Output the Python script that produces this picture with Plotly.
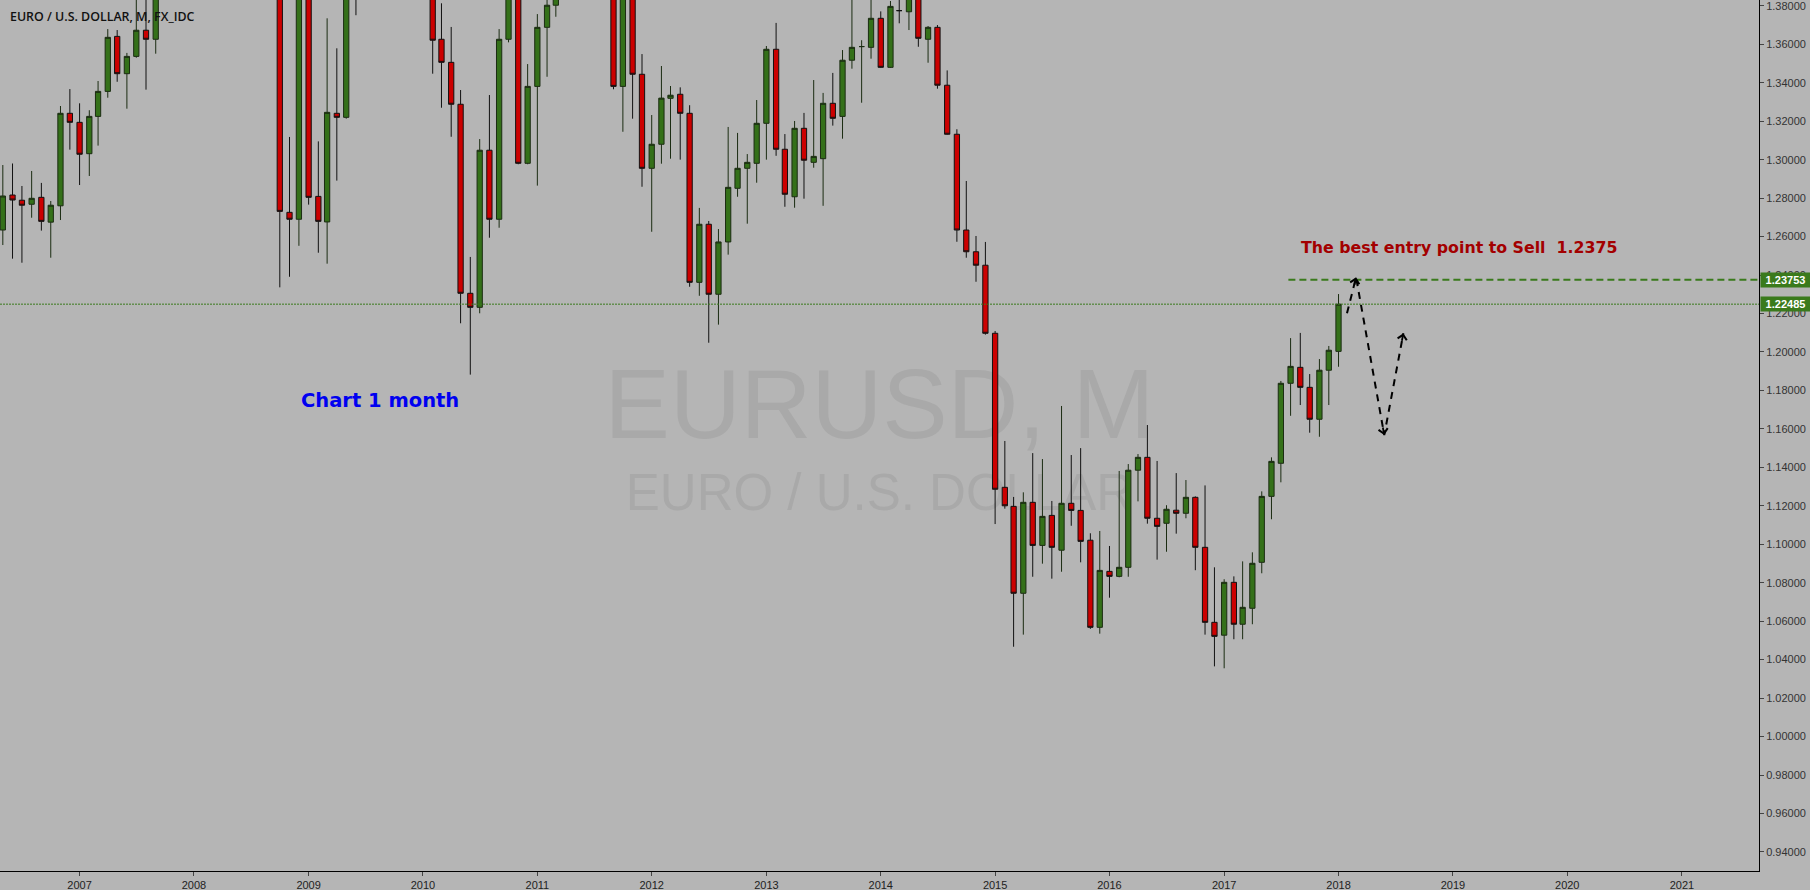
import pandas as pd
import plotly.graph_objects as go

# ---------------- data ----------------
months = pd.date_range("2006-05-01", "2018-01-01", freq="MS")

open_ = [
    1.2634, 1.2816, 1.2789, 1.2768, 1.2804, 1.2675, 1.2760, 1.3241,
    1.3194, 1.3031, 1.3225, 1.3355, 1.3641, 1.3447, 1.3537, 1.3673, 1.3626, 1.4265, 1.4487, 1.4630,
    1.4590, 1.4860, 1.5180, 1.5785, 1.5600, 1.5550, 1.5760, 1.5600, 1.4670, 1.4085, 1.2726, 1.2690,
    1.3970, 1.2809, 1.2676, 1.3241, 1.3220, 1.4150, 1.4030, 1.4250, 1.4330, 1.4635, 1.4720, 1.5000,
    1.4320, 1.3865, 1.3626, 1.3506, 1.3288, 1.2305, 1.2232, 1.3049, 1.2690, 1.3626, 1.3940, 1.2981,
    1.3381, 1.3688, 1.3803, 1.4160, 1.4805, 1.4395, 1.4500, 1.4395, 1.4380, 1.3381, 1.4145, 1.3444,
    1.2955, 1.3080, 1.3319, 1.3340, 1.3241, 1.2362, 1.2664, 1.2300, 1.2572, 1.2851, 1.2955, 1.2981,
    1.3189, 1.3574, 1.3054, 1.2807, 1.3163, 1.2986, 1.3005, 1.3293, 1.3225, 1.3517, 1.3588, 1.3584,
    1.3735, 1.3480, 1.3775, 1.3769, 1.3870, 1.3626, 1.3688, 1.3387, 1.3132, 1.2634, 1.2521, 1.2451,
    1.2097, 1.1296, 1.1197, 1.0745, 1.1218, 1.0994, 1.1150, 1.0969, 1.1213, 1.1176, 1.1021, 1.0568,
    1.0859, 1.0833, 1.0880, 1.1385, 1.1452, 1.1135, 1.1109, 1.1177, 1.1161, 1.1244, 1.0984, 1.0594,
    1.0527, 1.0802, 1.0584, 1.0667, 1.0906, 1.1249, 1.1421, 1.1837, 1.1920, 1.1816, 1.1650, 1.1905,
    1.2003,
]
high = [
    1.2972, 1.2980, 1.2863, 1.2941, 1.2879, 1.2785, 1.3279, 1.3367,
    1.3293, 1.3257, 1.3409, 1.3679, 1.3674, 1.3555, 1.3852, 1.3880, 1.4283, 1.4525, 1.4967, 1.4750,
    1.4905, 1.5240, 1.5905, 1.6020, 1.5815, 1.5845, 1.6040, 1.5620, 1.4865, 1.4150, 1.3118, 1.4720,
    1.4040, 1.3095, 1.3735, 1.3579, 1.4175, 1.4340, 1.4305, 1.4445, 1.4845, 1.5065, 1.5145, 1.5140,
    1.4580, 1.3990, 1.3813, 1.3690, 1.3362, 1.2494, 1.3107, 1.3336, 1.3679, 1.4160, 1.4280, 1.3497,
    1.3757, 1.3862, 1.4250, 1.4940, 1.4940, 1.4700, 1.4580, 1.4550, 1.4548, 1.4245, 1.4195, 1.3549,
    1.3232, 1.3487, 1.3383, 1.3376, 1.3283, 1.2749, 1.2681, 1.2639, 1.3170, 1.3139, 1.3029, 1.3310,
    1.3591, 1.3711, 1.3133, 1.3201, 1.3243, 1.3414, 1.3347, 1.3451, 1.3570, 1.3860, 1.3621, 1.3893,
    1.3771, 1.3825, 1.3967, 1.3905, 1.3995, 1.3695, 1.3700, 1.3464, 1.3158, 1.2889, 1.2603, 1.2572,
    1.2109, 1.1537, 1.1246, 1.1270, 1.1474, 1.1443, 1.1225, 1.1719, 1.1464, 1.1500, 1.1057, 1.1069,
    1.0991, 1.1381, 1.1417, 1.1469, 1.1620, 1.1433, 1.1203, 1.1370, 1.1334, 1.1249, 1.1306, 1.0880,
    1.0818, 1.0833, 1.0911, 1.0958, 1.1275, 1.1452, 1.1849, 1.2072, 1.2099, 1.1885, 1.1963, 1.2031,
    1.2301,
]
low = [
    1.2556, 1.2485, 1.2464, 1.2698, 1.2631, 1.2490, 1.2686, 1.3052,
    1.2868, 1.2915, 1.3073, 1.3322, 1.3405, 1.3265, 1.3530, 1.3364, 1.3551, 1.4088, 1.4440, 1.4350,
    1.4400, 1.4515, 1.5140, 1.5510, 1.5290, 1.5285, 1.5540, 1.4585, 1.3880, 1.2336, 1.2391, 1.2552,
    1.2766, 1.2516, 1.2459, 1.2891, 1.3213, 1.3751, 1.3870, 1.4045, 1.4220, 1.4575, 1.4640, 1.4220,
    1.3860, 1.3447, 1.3270, 1.3119, 1.2149, 1.1882, 1.2201, 1.2594, 1.2646, 1.3610, 1.2976, 1.2976,
    1.2865, 1.3431, 1.3743, 1.4155, 1.3970, 1.4010, 1.4050, 1.4050, 1.3366, 1.3145, 1.3213, 1.2859,
    1.2625, 1.2979, 1.3005, 1.3000, 1.2339, 1.2292, 1.2048, 1.2142, 1.2506, 1.2807, 1.2667, 1.2880,
    1.3000, 1.3020, 1.2755, 1.2750, 1.2797, 1.2958, 1.2760, 1.3177, 1.3109, 1.3473, 1.3296, 1.3525,
    1.3478, 1.3477, 1.3709, 1.3674, 1.3587, 1.3504, 1.3369, 1.3130, 1.2573, 1.2490, 1.2365, 1.2090,
    1.1105, 1.1185, 1.0467, 1.0530, 1.0831, 1.0899, 1.0821, 1.0857, 1.1096, 1.0906, 1.0560, 1.0535,
    1.0722, 1.0828, 1.0831, 1.1223, 1.1107, 1.0920, 1.0961, 1.1055, 1.1135, 1.0865, 1.0530, 1.0365,
    1.0355, 1.0506, 1.0506, 1.0584, 1.0849, 1.1130, 1.1322, 1.1668, 1.1724, 1.1580, 1.1559, 1.1724,
    1.1923,
]
close = [
    1.2811, 1.2790, 1.2763, 1.2799, 1.2679, 1.2763, 1.3241, 1.3194,
    1.3028, 1.3225, 1.3355, 1.3636, 1.3447, 1.3537, 1.3673, 1.3626, 1.4265, 1.4487, 1.4630, 1.4590,
    1.4860, 1.5180, 1.5785, 1.5600, 1.5550, 1.5760, 1.5600, 1.4670, 1.4085, 1.2731, 1.2690, 1.3970,
    1.2804, 1.2679, 1.3246, 1.3220, 1.4150, 1.4030, 1.4250, 1.4330, 1.4635, 1.4720, 1.5000, 1.4320,
    1.3865, 1.3621, 1.3506, 1.3288, 1.2305, 1.2232, 1.3049, 1.2690, 1.3626, 1.3940, 1.2981, 1.3381,
    1.3688, 1.3803, 1.4160, 1.4805, 1.4395, 1.4500, 1.4395, 1.4380, 1.3381, 1.4145, 1.3444, 1.2955,
    1.3080, 1.3320, 1.3335, 1.3241, 1.2362, 1.2664, 1.2300, 1.2572, 1.2856, 1.2955, 1.2986, 1.3189,
    1.3574, 1.3054, 1.2820, 1.3163, 1.2997, 1.3017, 1.3293, 1.3215, 1.3517, 1.3584, 1.3588, 1.3735,
    1.3480, 1.3797, 1.3775, 1.3870, 1.3631, 1.3688, 1.3387, 1.3132, 1.2634, 1.2521, 1.2451, 1.2097,
    1.1286, 1.1200, 1.0745, 1.1218, 1.0994, 1.1145, 1.0984, 1.1213, 1.1176, 1.1015, 1.0568, 1.0864,
    1.0833, 1.0880, 1.1385, 1.1452, 1.1135, 1.1093, 1.1182, 1.1161, 1.1244, 1.0984, 1.0594, 1.0521,
    1.0802, 1.0584, 1.0672, 1.0901, 1.1249, 1.1431, 1.1837, 1.1925, 1.1816, 1.1650, 1.1905, 1.2009,
    1.22485,
]
assert len(open_) == len(high) == len(low) == len(close) == len(months)

price_ticks = [0.94, 0.96, 0.98, 1.00, 1.02, 1.04, 1.06, 1.08, 1.10, 1.12, 1.14, 1.16,
               1.18, 1.20, 1.22, 1.24, 1.26, 1.28, 1.30, 1.32, 1.34, 1.36, 1.38]

last_price = 1.22485
entry_price = 1.23753
entry_line_start = "2017-07-25"

# hand-drawn forecast path (time, price)
arrow_x = ["2018-01-28", "2018-02-26", "2018-05-27", "2018-07-27"]
arrow_y = [1.2201, 1.2388, 1.1568, 1.2097]

BG = "#b5b5b5"
GREEN = "#347019"
RED = "#cc0000"
LINE_GREEN = "#3a7a1c"

fig = go.Figure()

fig.add_trace(go.Candlestick(
    x=months, open=open_, high=high, low=low, close=close,
    increasing=dict(fillcolor=GREEN, line=dict(color="#1b2c12", width=1)),
    decreasing=dict(fillcolor=RED, line=dict(color="#111111", width=1)),
    whiskerwidth=0, showlegend=False, hoverinfo="skip",
))

fig.add_trace(go.Scatter(
    x=arrow_x, y=arrow_y, mode="lines",
    line=dict(color="#000000", width=2, dash="7px,6px"),
    showlegend=False, hoverinfo="skip",
))

shapes = [
    # watermarks (drawn below the candles)
    dict(type="rect", xref="paper", yref="paper", x0=0, x1=1, y0=0.507, y1=0.585,
         line=dict(width=0), fillcolor="rgba(0,0,0,0)", layer="below",
         label=dict(text="EURUSD, M", textposition="middle center",
                    font=dict(family="Liberation Sans, Arial", size=98, color="#a9a9a9"))),
    dict(type="rect", xref="paper", yref="paper", x0=0, x1=1, y0=0.413, y1=0.468,
         line=dict(width=0), fillcolor="rgba(0,0,0,0)", layer="below",
         label=dict(text="EURO / U.S. DOLLAR", textposition="middle center",
                    font=dict(family="Liberation Sans, Arial", size=51, color="#a9a9a9"))),
    # last price dotted line
    dict(type="line", xref="paper", yref="y", x0=0, x1=1, y0=last_price, y1=last_price,
         line=dict(color=LINE_GREEN, width=1, dash="2px,1px"), layer="above"),
    # entry dashed line
    dict(type="line", xref="x", yref="y", x0=entry_line_start, x1="2022-06-01",
         y0=entry_price, y1=entry_price,
         line=dict(color=LINE_GREEN, width=2, dash="7px,4px"), layer="above"),
]

annotations = [
    dict(xref="paper", yref="paper", x=0.0045, y=1 - 17 / 871, xanchor="left", yanchor="middle",
         text="EURO / U.S. DOLLAR, M, FX_IDC", showarrow=False,
         font=dict(family="Open Sans", size=12.4, color="#111111", weight=600)),
    dict(xref="x", yref="y", x="2009-08-16", y=1.1746, xanchor="center", yanchor="middle",
         text="Chart 1 month", showarrow=False,
         font=dict(family="DejaVu Sans", size=19.5, color="#0000f0", weight="bold")),
    dict(xref="x", yref="y", x="2019-01-22", y=1.2541, xanchor="center", yanchor="middle",
         text="The best entry point to Sell  1.2375", showarrow=False,
         font=dict(family="DejaVu Sans", size=15.8, color="#a30000", weight="bold")),
    # price labels on the axis
    dict(xref="paper", yref="y", x=1, y=entry_price, xanchor="left", yanchor="middle",
         text="<b>1.23753</b>", showarrow=False, bgcolor="#3a7a1c", width=49, height=14,
         borderpad=0, xshift=1, font=dict(family="Liberation Sans, Arial", size=11, color="#ffffff")),
    dict(xref="paper", yref="y", x=1, y=last_price, xanchor="left", yanchor="middle",
         text="<b>1.22485</b>", showarrow=False, bgcolor="#3a7a1c", width=49, height=14,
         borderpad=0, xshift=1, font=dict(family="Liberation Sans, Arial", size=11, color="#ffffff")),
]
# arrowheads at the tips of the forecast path
for i, (ax, ay) in zip([1, 2, 3], [(-2, 9), (-1.7, -9), (-1.8, 9)]):
    annotations.append(dict(
        xref="x", yref="y", x=arrow_x[i], y=arrow_y[i], ax=ax, ay=ay, text="",
        showarrow=True, arrowhead=4, arrowsize=1, arrowwidth=1.8, arrowcolor="#000000",
        standoff=0,
    ))

fig.update_layout(
    width=1810, height=890,
    margin=dict(l=0, r=51, t=0, b=19, pad=0),
    paper_bgcolor=BG, plot_bgcolor=BG,
    font=dict(family="Liberation Sans, Arial", size=11, color="#222222"),
    showlegend=False,
    shapes=shapes, annotations=annotations,
    boxgap=0.4, boxgroupgap=0,
    xaxis=dict(
        type="date", range=["2006-04-22", "2021-09-04"],
        rangeslider=dict(visible=False),
        tick0="2007-01-01", dtick="M12", tickformat="%Y",
        showgrid=False, zeroline=False,
        showline=True, linecolor="#000000", linewidth=1,
        ticks="outside", ticklen=4, tickcolor="#444444",
        tickfont=dict(family="Liberation Sans, Arial", size=11, color="#222222"),
        ticklabeloverflow="allow",
        fixedrange=True,
    ),
    yaxis=dict(
        side="right", range=[0.93008, 1.38302],
        tickvals=price_ticks, tickformat=".5f",
        showgrid=False, zeroline=False,
        showline=True, linecolor="#000000", linewidth=1,
        ticks="outside", ticklen=4, tickcolor="#444444",
        tickfont=dict(family="Liberation Sans, Arial", size=11, color="#333333"),
        ticklabeloverflow="allow",
        fixedrange=True,
    ),
)

fig.write_html(
    "out.html",
    config={"displayModeBar": False},
    post_script="document.body.style.margin='0';document.body.style.overflow='hidden';",
)
